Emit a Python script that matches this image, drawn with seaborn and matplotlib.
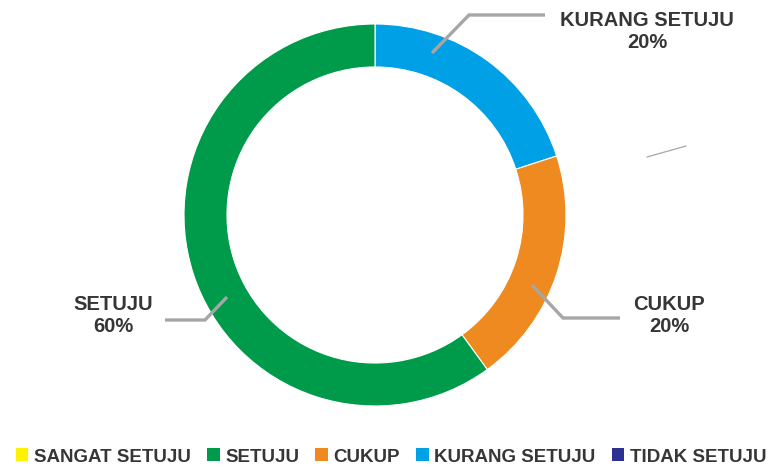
import matplotlib
matplotlib.use("Agg")
import matplotlib.pyplot as plt
from matplotlib.patches import Patch
import seaborn as sns

# data (clockwise from 12 o'clock, same order Excel used)
categories = ["TIDAK SETUJU", "KURANG SETUJU", "CUKUP", "SETUJU", "SANGAT SETUJU"]
values = [0, 20, 20, 60, 0]
colors = ["#2e3192", "#00a0e6", "#ee8a1f", "#009a4b", "#fff200"]
legend_order = ["SANGAT SETUJU", "SETUJU", "CUKUP", "KURANG SETUJU", "TIDAK SETUJU"]

sns.set_style("white")
plt.rcParams["font.family"] = ["Liberation Sans", "DejaVu Sans"]

W, H = 770, 468
fig = plt.figure(figsize=(W / 100, H / 100), dpi=100)
ax = fig.add_axes([0, 0, 1, 1])

# pie in pixel-like units (y measured from the bottom)
cx, cy, R = 375, H - 215, 191
wedges, _ = ax.pie(
    values, colors=colors, startangle=90, counterclock=False,
    center=(cx, cy), radius=R,
    wedgeprops=dict(width=R * 0.225, edgecolor="white", linewidth=0.8),
)
for w, v in zip(wedges, values):
    if v == 0:
        w.set_linewidth(0)

ax.set_xlim(0, W)
ax.set_ylim(0, H)
ax.axis("off")

# data labels with elbow leader lines (layout only)
lead_col = "#a6a6a6"
txt_col = "#363636"
labels = {
    "KURANG SETUJU": dict(path=[(432, 53), (469, 15), (545, 15)], pos=(647, 31)),
    "CUKUP": dict(path=[(532, 285), (563, 318), (620, 318)], pos=(669, 315)),
    "SETUJU": dict(path=[(227, 297), (205, 320), (165, 320)], pos=(113, 316)),
}
total = sum(values)
for name, v in zip(categories, values):
    if name not in labels:
        continue
    cfg = labels[name]
    xs = [p[0] for p in cfg["path"]]
    ys = [H - p[1] for p in cfg["path"]]
    ax.plot(xs, ys, color=lead_col, lw=2.4, solid_capstyle="butt",
            solid_joinstyle="miter")
    ax.text(cfg["pos"][0], H - cfg["pos"][1], f"{name}\n{round(v / total * 100)}%",
            ha="center", va="center", fontsize=14.5, fontweight="bold",
            color=txt_col, linespacing=1.2)

# stray leader line left over from a hidden 0% label
ax.plot([647, 686], [H - 157, H - 146], color=lead_col, lw=0.9)

# legend
handles = [Patch(facecolor=colors[categories.index(n)], edgecolor="none") for n in legend_order]
leg = fig.legend(handles, legend_order, loc="center", ncol=5,
                 bbox_to_anchor=(391 / W, 1 - 457 / H), frameon=False,
                 prop=dict(weight="bold", size=13.5),
                 handlelength=0.68, handleheight=0.68, handletextpad=0.3,
                 columnspacing=0.85, borderaxespad=0, borderpad=0)
for t in leg.get_texts():
    t.set_color(txt_col)

fig.savefig("out.png", dpi=100)
